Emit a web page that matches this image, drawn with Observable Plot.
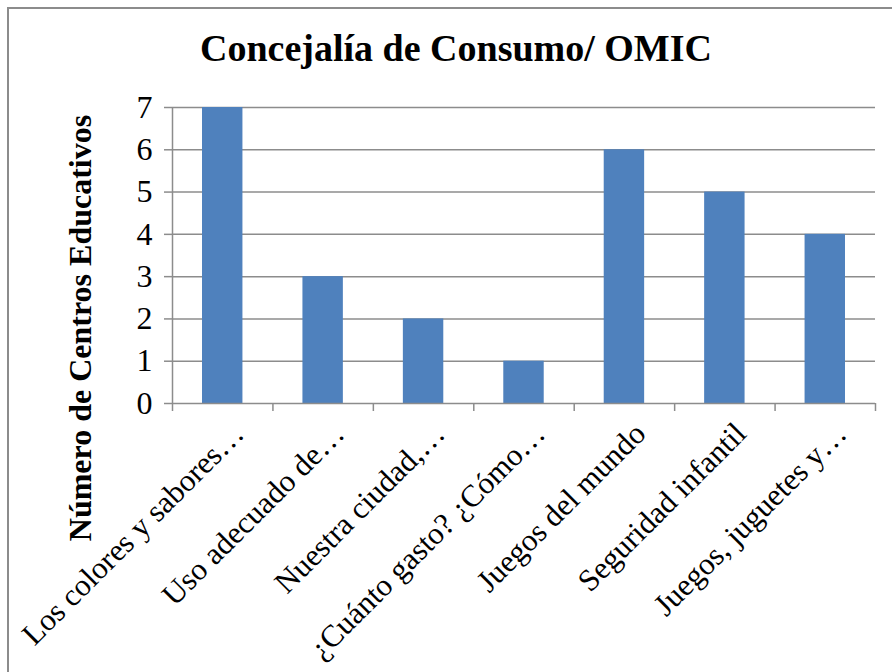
<!DOCTYPE html>
<html>
<head>
<meta charset="utf-8">
<script src="https://cdn.jsdelivr.net/npm/d3@7"></script>
<script src="https://cdn.jsdelivr.net/npm/@observablehq/plot@0.6"></script>
<style>
  html, body { margin: 0; padding: 0; background: #fff; overflow: hidden; }
  #wrap { position: relative; width: 892px; height: 672px; overflow: hidden; font-family: 'Liberation Serif', serif; }
  #frame { position: absolute; left: 7px; top: 7px; width: 1000px; height: 1000px; border: 2px solid #8c8c8c; box-sizing: border-box; }
  #title { position: absolute; left: 0; width: 912px; top: 26px; text-align: center; font-weight: bold; font-size: 38px; color: #000; white-space: nowrap; font-family: 'Liberation Serif', serif; }
  #ylabel { position: absolute; left: 80px; top: 328px; transform: translate(-50%, -50%) rotate(-90deg); font-weight: bold; font-size: 32px; white-space: nowrap; color: #000; font-family: 'Liberation Serif', serif; }
  #chart { position: absolute; left: 0; top: 0; }
</style>
</head>
<body>
<div id="wrap">
  <div id="frame"></div>
  <div id="chart"></div>
  <div id="title">Concejalía de Consumo/ OMIC</div>
  <div id="ylabel">Número de Centros Educativos</div>
</div>
<script>
const categories = [
  "Los colores y sabores…",
  "Uso adecuado de…",
  "Nuestra ciudad,…",
  "¿Cuánto gasto? ¿Cómo…",
  "Juegos del mundo",
  "Seguridad infantil",
  "Juegos, juguetes y…"
];
const values = [7, 3, 2, 1, 6, 5, 4];
const yTicks = [0, 1, 2, 3, 4, 5, 6, 7];

const data = categories.map((c, i) => ({i, c, v: values[i]}));
const n = categories.length;
const slots = d3.range(n + 1);

const chart = Plot.plot({
  width: 892,
  height: 672,
  marginTop: 107,
  marginLeft: 172,
  marginRight: 17,
  marginBottom: 269,
  style: {fontFamily: "'Liberation Serif', serif", background: "transparent", color: "#000"},
  x: {domain: [0, n]},
  y: {domain: [0, 7]},
  marks: [
    Plot.gridY(yTicks.slice(1), {stroke: "#8c8c8c", strokeOpacity: 1, strokeWidth: 1.5}),
    Plot.rectY(data, {x1: "i", x2: d => d.i + 1, y: "v", fill: "#4F81BD", insetLeft: 30, insetRight: 30}),
    Plot.ruleX([0], {stroke: "#8c8c8c", strokeWidth: 1.5}),
    Plot.ruleY([0], {stroke: "#8c8c8c", strokeWidth: 1.5}),
    Plot.axisY(yTicks, {tickSize: 8, tickPadding: 12, fontSize: 32, stroke: "#8c8c8c", strokeWidth: 1.5, fill: "#000", label: null, tickFormat: d => d}),
    Plot.axisX(slots, {tickSize: 8, stroke: "#8c8c8c", strokeWidth: 1.5, tickFormat: () => "", label: null}),
    Plot.text(data, {x: d => d.i + 0.5, y: 0, text: "c", rotate: -45, textAnchor: "end", lineAnchor: "middle", fontSize: 31, fill: "#000", dx: 16, dy: 25})
  ]
});
document.getElementById("chart").appendChild(chart);
</script>
</body>
</html>
